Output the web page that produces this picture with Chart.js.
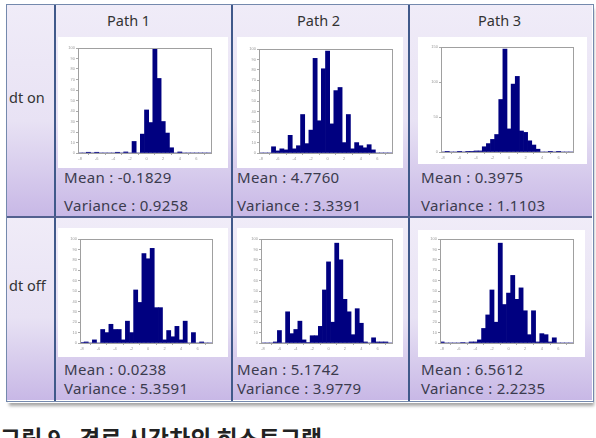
<!DOCTYPE html>
<html>
<head>
<meta charset="utf-8">
<script src="https://cdn.jsdelivr.net/npm/chart.js@4.4.1/dist/chart.umd.min.js"></script>
<style>
  body { margin: 0; width: 596px; height: 438px; overflow: hidden; background: #fff; font-family: "Noto Sans", sans-serif; }
  .abs { position: absolute; }
  .cell { background: linear-gradient(#f0ecf8 0%, #e8e2f4 55%, #c8b8e6 100%); }
  .white { background: #fff; }
  .txt { color: #3b3b4e; font-size: 15px; letter-spacing: 0.3px; line-height: 18px; white-space: nowrap; }
  .head { color: #333; font-size: 14.5px; line-height: 18px; white-space: nowrap; }
  .line { background: #40598a; }
</style>
</head>
<body>
<div id="page"></div>
<script>
// bins of each histogram (32 bins across the axis)
var bins = ['1','2','3','4','5','6','7','8','9','10','11','12','13','14','15','16',
            '17','18','19','20','21','22','23','24','25','26','27','28','29','30','31','32'];
var xTickLabels = ['-8','-6','-4','-2','0','2','4','6'];

var pathNames = ['Path 1', 'Path 2', 'Path 3'];
var rowNames = ['dt on', 'dt off'];

// dt on
var path1On = [0,0,0.7,0,0.7,0,0,0,0,0.7,0,1,0,11,0,18,41,29,99,71,30,19,5,0,1,0,0,0,0,0,0,0];
var path2On = [0,0,0,6,2,4,3,17,4,7,37,9,22,91,31,81,98,28,60,63,10,37,4,10,7,5,8,3,0,0,0,0];
var path3On = [0,1,0,0,1,0,1,1,1.5,1.5,7.5,12,18,25,75,147,33,97,108,30,28,16,10,4,0,0,1,0,1,0,0,0];
// dt off
var path1Off = [0.5,1,0,3,0,13,10,18,13,13,3,21,10,51,39,86,81,91,34,34,3,12,6,16,3,21,0,10,0,1,0,0];
var path2Off = [0,0,0,1,12,0,30,9,13,21,3,0.5,7,7,16,51,78,20,96,80,42,30,8,33,19,1,0,5,1,1,1,0];
var path3Off = [1,0,0,0,0,0.5,0,1,1,3,14,27,51,20,96,37,48,65,42,53,31,8,31,1,9,8,1,5,0,0,0,0];

var yMaxOn = [100, 100, 150];
var yStepOn = [10, 10, 50];
var yMaxOff = [100, 100, 100];
var yStepOff = [10, 10, 10];

var meansOn = ['-0.1829', '4.7760', '0.3975'];
var varsOn = ['0.9258', '3.3391', '1.1103'];
var meansOff = ['0.0238', '5.1742', '6.5612'];
var varsOff = ['5.3591', '3.9779', '2.2235'];

var caption = '그림 9.  경로 시간차의 히스토그램';

var page = document.getElementById('page');
function box(cls, x, y, w, h, html) {
  var d = document.createElement('div');
  d.className = 'abs ' + cls;
  d.style.left = x + 'px'; d.style.top = y + 'px';
  if (w != null) d.style.width = w + 'px';
  if (h != null) d.style.height = h + 'px';
  if (html != null) d.innerHTML = html;
  page.appendChild(d);
  return d;
}

// table geometry
var colX = [55, 232, 409, 592];

// shadow + cells + outer frame
box('', 8, 6, 585, 397).style.boxShadow = '1px 3px 3px rgba(0,0,0,0.35)';
box('cell', 7, 5, 48, 211);
box('cell', 7, 216, 48, 184);
for (var c = 0; c < 3; c++) {
  box('cell', colX[c], 5, colX[c + 1] - colX[c], 211);
  box('cell', colX[c], 216, colX[c + 1] - colX[c], 184);
}
var o = box('', 6, 4, 586, 396);
o.style.border = '1px solid #7489ad';

var whiteTop = [[58, 37, 170, 131], [237, 37, 166, 131], [418, 37, 169, 127]];
var whiteBot = [[58, 228, 170, 129], [237, 228, 166, 129], [418, 230, 167, 127]];
whiteTop.concat(whiteBot).forEach(function (w) { box('white', w[0], w[1], w[2], w[3]); });

// grid lines
box('line', 54, 5, 2, 396);
box('line', 231, 5, 2, 396);
box('line', 408, 5, 2, 396);
box('line', 7, 216, 585, 1.5).style.background = '#53608f';

// labels
box('head', 107, 11, null, null, pathNames[0]);
box('head', 297, 11, null, null, pathNames[1]);
box('head', 478, 11, null, null, pathNames[2]);
box('head', 9, 88, null, null, rowNames[0]);
box('head', 9, 276, null, null, rowNames[1]);

var textX = [64, 237, 421];
for (var c = 0; c < 3; c++) {
  box('txt', textX[c], 168, null, null, 'Mean : ' + meansOn[c]);
  box('txt', textX[c], 196, null, null, 'Variance : ' + varsOn[c]);
  box('txt', textX[c], 360, null, null, 'Mean : ' + meansOff[c]);
  box('txt', textX[c], 379, null, null, 'Variance : ' + varsOff[c]);
}
var cap = box('', 0, 425, null, null, caption);
cap.style.cssText += 'font-family:"Noto Sans CJK KR";font-size:23px;line-height:24px;font-weight:bold;color:#222;white-space:pre;';

// frame drawn round the plot area (MATLAB style box)
var framePlugin = {
  id: 'frame',
  afterDraw: function (chart) {
    var a = chart.chartArea, ctx = chart.ctx;
    ctx.save();
    ctx.strokeStyle = '#a0a0a0';
    ctx.lineWidth = 1;
    ctx.strokeRect(Math.round(a.left) + 0.5, Math.round(a.top) + 0.5,
                   Math.round(a.right - a.left), Math.round(a.bottom - a.top));
    ctx.restore();
  }
};

function hist(frame, values, yMax, yStep) {
  var padL = 16, padT = 4, padR = 4, padB = 10;
  var cv = document.createElement('canvas');
  cv.width = frame[2] + padL + padR;
  cv.height = frame[3] + padT + padB;
  cv.style.position = 'absolute';
  cv.style.left = (frame[0] - padL) + 'px';
  cv.style.top = (frame[1] - padT) + 'px';
  page.appendChild(cv);
  new Chart(cv, {
    type: 'bar',
    data: {
      labels: bins,
      datasets: [{
        data: values,
        backgroundColor: '#000080',
        borderWidth: 0,
        barPercentage: 1,
        categoryPercentage: 1
      }]
    },
    options: {
      responsive: false,
      animation: false,
      layout: { padding: { top: padT, right: padR, left: 0, bottom: 0 } },
      plugins: { legend: { display: false }, tooltip: { enabled: false } },
      scales: {
        x: {
          grid: { drawOnChartArea: false, tickLength: 2, color: '#aaa' },
          border: { color: '#a0a0a0' },
          ticks: {
            autoSkip: false, maxRotation: 0, padding: 1,
            font: { size: 4 }, color: '#999',
            callback: function (v, i) { return i % 4 === 0 ? xTickLabels[i / 4] : null; }
          },
          afterFit: function (s) { s.height = padB; }
        },
        y: {
          min: 0, max: yMax,
          grid: { drawOnChartArea: false, tickLength: 2, color: '#aaa' },
          border: { color: '#a0a0a0' },
          ticks: { stepSize: yStep, padding: 1, font: { size: 4 }, color: '#999' },
          afterFit: function (s) { s.width = padL; }
        }
      }
    },
    plugins: [framePlugin]
  });
}

var framesTop = [[78, 48, 133, 105], [259, 49, 133, 104], [441, 47, 132, 105]];
var framesBot = [[80, 239, 132, 104], [261, 239, 131, 104], [440, 239, 133, 104]];
var onSets = [path1On, path2On, path3On];
var offSets = [path1Off, path2Off, path3Off];
for (var c = 0; c < 3; c++) {
  hist(framesTop[c], onSets[c], yMaxOn[c], yStepOn[c]);
  hist(framesBot[c], offSets[c], yMaxOff[c], yStepOff[c]);
}
</script>
</body>
</html>
